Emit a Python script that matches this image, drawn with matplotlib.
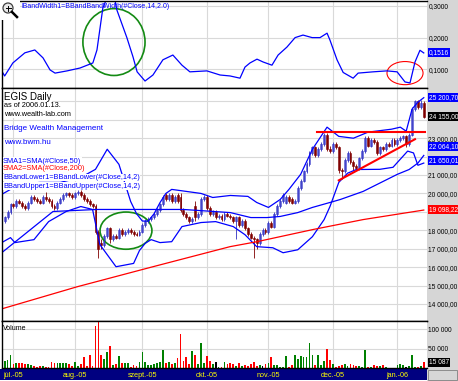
import numpy as np
import pandas as pd
import matplotlib
matplotlib.use("Agg")
import matplotlib.pyplot as plt
from matplotlib.patches import Ellipse, Rectangle

plt.rcParams['font.family'] = ['Liberation Sans', 'DejaVu Sans']

W, H = 458, 381

# trading days shown on the chart
dates = pd.bdate_range("2005-06-28", "2006-01-13")

opens = [18500, 18700, 19000, 19400, 19300, 19600, 19500, 19300, 19200, 19500, 19800, 19700,
         19600, 19500, 19800, 19700, 19600, 19300, 19200, 19500, 19700, 19900, 20000, 19900,
         19800, 20000, 20100, 19900, 19700, 19600, 19400, 19300, 17900, 17300, 17200, 17700,
         18100, 17500, 17700, 17600, 18000, 17800, 17900, 18000, 17900, 17800, 17750, 17900,
         18300, 18500, 18600, 18700, 18900, 19100, 19400, 19900, 19700, 19900, 19600, 19900,
         19800, 19100, 18900, 18700, 18500, 19300, 18700, 18900, 19700, 19800, 19200, 18900,
         19000, 18700, 18800, 18600, 18900, 18800, 18700, 18500, 18700, 18300, 18500, 18100,
         17800, 17600, 17500, 17300, 17800, 18000, 17900, 18400, 18200, 18900, 19300, 19600,
         19500, 19800, 19700, 19500, 19600, 20300, 20700, 21200, 21600, 22200, 22500, 22100,
         22400, 22700, 23200, 22400, 22300, 22700, 22500, 21300, 21200, 21800, 22200, 21700,
         21500, 21400, 21900, 22300, 23000, 22600, 22900, 22800, 22200, 22500, 22400, 22700,
         22600, 22900, 22700, 22900, 23000, 23100, 22700, 23200, 24600, 25000, 24700, 24900]
highs = [18800, 19100, 19500, 19500, 19700, 19700, 19600, 19400, 19600, 19900, 19900, 19800,
         19700, 19900, 20100, 19800, 19700, 19400, 19600, 19800, 20000, 20100, 20100, 20000,
         20100, 20200, 20200, 20000, 19800, 19700, 19500, 19400, 18000, 17500, 17800, 18200,
         18200, 17800, 17800, 18100, 18100, 18000, 18100, 18100, 18000, 17900, 18000, 18400,
         18600, 18700, 18800, 19000, 19200, 19500, 19900, 20000, 20000, 20000, 19900, 20000,
         20000, 19200, 19000, 18800, 18700, 19600, 19000, 19800, 19900, 19900, 19300, 19100,
         19100, 18900, 18900, 19000, 19000, 18900, 18800, 18800, 18800, 18600, 18600, 18200,
         17900, 17700, 17600, 17900, 18100, 18100, 18500, 18500, 19000, 19400, 19700, 20000,
         19900, 19900, 19800, 19700, 20400, 20800, 21300, 21700, 22300, 22600, 22600, 22500,
         22800, 23300, 23300, 22600, 22800, 22800, 22600, 21400, 21900, 22300, 22300, 21800,
         21600, 22000, 22400, 23100, 23100, 23000, 23000, 22900, 22600, 22600, 22800, 22800,
         23000, 23000, 23000, 23100, 23200, 23200, 23300, 24700, 25100, 25100, 25100, 25000]
lows = [18400, 18600, 18900, 19200, 19200, 19400, 19200, 19100, 19100, 19400, 19600, 19500,
        19400, 19400, 19600, 19500, 19200, 19100, 19100, 19400, 19600, 19800, 19800, 19700,
        19700, 19900, 19800, 19600, 19500, 19300, 19200, 17800, 16500, 17000, 17100, 17600,
        17300, 17400, 17500, 17500, 17700, 17700, 17800, 17800, 17700, 17700, 17700, 17850,
        18200, 18400, 18500, 18600, 18800, 19000, 19300, 19600, 19600, 19500, 19500, 19500,
        19000, 18800, 18600, 18400, 18400, 18500, 18600, 18800, 19600, 19100, 18800, 18800,
        18600, 18600, 18500, 18500, 18700, 18600, 18400, 17500, 18200, 18200, 18000, 17700,
        17500, 16500, 17000, 17200, 17700, 17800, 17800, 18100, 18100, 18800, 19200, 19500,
        19400, 19500, 19400, 19400, 19500, 20200, 20600, 21100, 21500, 22100, 22000, 22000,
        22300, 22600, 22300, 22200, 22200, 22400, 21100, 20800, 21100, 21700, 21600, 21300,
        21300, 21300, 21800, 22200, 22500, 22500, 22700, 22100, 22100, 22300, 22300, 22500,
        22500, 22600, 22600, 22800, 22900, 22500, 22600, 23100, 24500, 24600, 24600, 24100]
closes = [18700, 19000, 19400, 19300, 19600, 19500, 19300, 19200, 19500, 19800, 19700, 19600,
          19500, 19800, 19700, 19600, 19300, 19200, 19500, 19700, 19900, 20000, 19900, 19800,
          20000, 20100, 19900, 19700, 19600, 19400, 19300, 17900, 17000, 17200, 17700, 18100,
          17500, 17700, 17600, 18000, 17800, 17900, 18000, 17900, 17800, 17750, 17900, 18300,
          18500, 18600, 18700, 18900, 19100, 19400, 19800, 19700, 19900, 19600, 19800, 19600,
          19100, 18900, 18700, 18500, 18600, 18700, 18900, 19700, 19800, 19200, 18900, 19000,
          18700, 18800, 18600, 18900, 18800, 18700, 18500, 18700, 18300, 18500, 18100, 17800,
          17600, 17500, 17300, 17800, 18000, 17900, 18400, 18200, 18900, 19300, 19600, 19900,
          19800, 19600, 19500, 19600, 20300, 20700, 21200, 21600, 22200, 22500, 22100, 22400,
          22700, 23200, 22400, 22300, 22700, 22500, 21300, 21200, 21800, 22200, 21700, 21500,
          21400, 21900, 22300, 23000, 22600, 22900, 22800, 22200, 22500, 22400, 22700, 22600,
          22900, 22700, 22900, 23000, 23100, 22700, 23200, 24600, 25000, 24700, 24900, 24155]
volumes = [18400, 21000, 32500, 9600, 12300, 12300, 12300, 9600, 9600, 7900, 6000, 3500,
           6000, 6000, 3500, 3500, 16700, 12300, 12300, 12300, 12300, 12300, 9600, 5000,
           16700, 6000, 9600, 27200, 6000, 32500, 5000, 109000, 118000, 34200, 23700, 41200,
           56000, 7900, 9600, 29800, 12300, 12300, 12300, 3500, 7900, 6000, 16700, 41200,
           16700, 7900, 7900, 9600, 12300, 16700, 45600, 12300, 16700, 9600, 12300, 25000,
           87000, 18400, 27200, 9600, 43000, 32500, 9600, 65000, 12300, 29800, 18400, 9600,
           16700, 3500, 3500, 16700, 9600, 12300, 9600, 6000, 12300, 6000, 7900, 6000,
           9600, 16700, 6000, 7900, 6000, 9600, 12300, 27200, 7900, 7900, 3500, 3500,
           29800, 3500, 7900, 32500, 23700, 29800, 27200, 27200, 65000, 34200, 7900, 34200,
           7900, 18400, 50000, 21000, 9600, 3500, 6000, 7900, 9600, 6000, 9600, 7900,
           5000, 5000, 3500, 47400, 3500, 3500, 7900, 6000, 6000, 7900, 1800, 1000,
           1000, 1000, 7900, 9600, 7900, 3500, 6000, 32500, 3500, 3500, 6000, 15087]
vol_black = [72, 88, 137]

# indicator lines (bar index, value)
bw_idx = [-1, 0, 2.8, 6.9, 10.3, 13.1, 15.5, 17.2, 21.3, 25.7, 30.1, 31.5, 33.5, 34.9, 36.2,
          37.6, 38.3, 41.7, 43.8, 45.2, 47.9, 50.6, 54, 57.4, 60.5, 63.2, 69, 73.5, 76.9, 80.3,
          82, 83.7, 86.1, 88.2, 91.2, 93.3, 96.3, 99.1, 101.8, 104.9, 107.6, 110, 111, 113.4,
          115.5, 118.9, 120.6, 125.7, 130.4, 133.9, 136.6, 138.3, 140, 141.7, 143]
bw_val = [0.095, 0.079, 0.12, 0.152, 0.161, 0.136, 0.098, 0.088, 0.095, 0.104, 0.12, 0.161,
          0.293, 0.325, 0.345, 0.32, 0.287, 0.2, 0.139, 0.092, 0.063, 0.082, 0.13, 0.145, 0.113,
          0.092, 0.095, 0.082, 0.079, 0.072, 0.107, 0.12, 0.132, 0.123, 0.113, 0.145, 0.17, 0.2,
          0.208, 0.2, 0.2, 0.214, 0.192, 0.13, 0.09, 0.072, 0.088, 0.092, 0.095, 0.092, 0.06,
          0.057, 0.123, 0.16, 0.1516]

bbu_idx = [-1, 5, 12, 19, 26, 31, 35, 39, 43, 45, 47, 49, 51, 53, 55, 57, 62, 67, 71, 77, 83,
           86, 90, 94, 97, 101, 105, 110, 114, 119, 124, 132, 135, 137, 139, 141, 143]
bbu_val = [19950, 20490, 20600, 20600, 20870, 21310, 22400, 21580, 19560, 18900, 18500, 18500,
           18900, 19500, 20000, 20220, 20110, 20000, 19780, 19890, 19840, 19510, 19240, 19670,
           20220, 21040, 22400, 23600, 23100, 23000, 23330, 23490, 23600, 23380, 24580, 24960,
           25200.70]

bbl_idx = [-1, 2, 3.5, 10, 15, 21, 26, 30, 32.5, 38, 44, 46, 48, 50, 53, 57, 60.5, 67, 72, 78,
           82, 86, 91.5, 95, 100, 105, 109, 111, 114, 117, 120, 128, 132.5, 137.5, 139.5, 141, 143]
bbl_val = [17330, 17600, 17330, 17490, 18470, 19020, 19290, 19130, 17220, 16020, 16200, 16900,
           17300, 17490, 17330, 17380, 18200, 18420, 18470, 18200, 17760, 17110, 17050, 16780,
           16940, 17650, 18580, 19290, 20600, 21100, 21300, 21310, 21420, 22300, 22200, 21530,
           21650.01]

sma50_idx = [-1, 16.5, 31.5, 46, 61, 77, 84, 89.5, 94, 100, 105, 111, 114.5, 122.3, 134, 138,
             141, 143]
sma50_val = [16780, 19020, 19130, 19130, 19130, 18960, 18690, 18690, 18750, 18960, 19240, 19510,
             19670, 20110, 21040, 21300, 21650, 22064.10]

sma200_idx = [-1, 24.7, 50.6, 76.9, 86.1, 105.2, 122.3, 143]
sma200_val = [13730, 14930, 16020, 17110, 17380, 18040, 18580, 19098.22]

# hand drawn marks on the chart: (centre idx, centre value, width, height)
bw_green_ring = (37.3, 0.186, 21.2, 0.211)
bw_red_ring = (136.6, 0.088, 12.3, 0.073)
price_green_ring = (41.4, 17980, 17.7, 2020)
resistance_x, resistance_y = [106.6, 143.4], [23330, 23330]
support_x, support_y = [114, 140], [20710, 22945]

month_labels = ["júl.-05", "aug.-05", "szept.-05", "okt.-05", "nov.-05", "dec.-05", "jan.-06"]
bw_ticks = [0.1, 0.2, 0.3]
bw_tick_labels = ["0,1000", "0,2000", "0,3000"]
price_ticks = list(range(14000, 26000, 1000))
price_tick_labels = ["14 000,00", "15 000,00", "16 000,00", "17 000,00", "18 000,00", "",
                     "20 000,00", "21 000,00", "", "23 000,00", "", ""]
vol_ticks = [50000, 100000]
vol_tick_labels = ["50 000", "100 000"]

BLUE = '#0000ff'
RED = '#ff0000'
GREEN_RING = '#138a13'
GRID = '#d9d9d9'

idx = np.arange(len(dates))
month_pos = [i for i in range(1, len(dates)) if dates[i].month != dates[i - 1].month]


def box(x0, y0, x1, y1):
    return [x0 / W, 1 - y1 / H, (x1 - x0) / W, (y1 - y0) / H]


fig = plt.figure(figsize=(W / 100, H / 100), dpi=100)
fig.patch.set_facecolor('white')

# grey price-scale column and navy date strip
fig.add_artist(Rectangle((427 / W, 0), 31 / W, 1, transform=fig.transFigure,
                         fc='#d6d6d6', ec='none', zorder=-5))
fig.add_artist(Rectangle((0, 1 - 380 / H), 427 / W, 11 / H, transform=fig.transFigure,
                         fc='#000080', ec='none', zorder=-5))
fig.add_artist(Rectangle((428 / W, 1 - 380 / H), 29 / W, 10 / H, transform=fig.transFigure,
                         fc='#d6d6d6', ec='#808080', lw=0.6, zorder=-4))

ax_bw = fig.add_axes(box(2, 1, 427, 88))
ax_p = fig.add_axes(box(2, 88, 427, 321))
ax_v = fig.add_axes(box(2, 321, 427, 368))

for ax in (ax_bw, ax_p, ax_v):
    ax.set_xlim(-0.9, 144.1)
    ax.set_xticks(month_pos)
    ax.grid(True, color=GRID, lw=0.8)
    ax.set_axisbelow(True)
    ax.yaxis.tick_right()
    ax.tick_params(axis='both', length=0, labelsize=4.8, pad=1)
    ax.tick_params(axis='x', labelbottom=False)
    ax.spines['right'].set_visible(False)
    for s in ('left', 'top', 'bottom'):
        ax.spines[s].set_linewidth(1.0)

# --- band width panel
ax_bw.plot(bw_idx, bw_val, color=BLUE, lw=0.9)
ax_bw.set_ylim(0.041, 0.3155)
ax_bw.set_yticks(bw_ticks)
ax_bw.set_yticklabels(bw_tick_labels)
c = bw_green_ring
ax_bw.add_patch(Ellipse((c[0], c[1]), c[2], c[3], fill=False, ec=GREEN_RING, lw=1.2))
c = bw_red_ring
ax_bw.add_patch(Ellipse((c[0], c[1]), c[2], c[3], fill=False, ec=RED, lw=0.8))

# --- price panel
up = np.array(closes) >= np.array(opens)
for i in idx:
    col = '#3030c0' if up[i] else '#800000'
    ax_p.vlines(i, lows[i], highs[i], color=col, lw=0.6)
body_lo = np.minimum(opens, closes)
body_h = np.abs(np.array(closes) - np.array(opens))
ax_p.bar(idx[up], body_h[up], bottom=body_lo[up], width=0.65,
         color='#aab0ff', edgecolor='#3030c0', lw=0.4)
ax_p.bar(idx[~up], body_h[~up], bottom=body_lo[~up], width=0.65,
         color='#800000', edgecolor='#800000', lw=0.4)

ax_p.plot(bbu_idx, bbu_val, color=BLUE, lw=0.9)
ax_p.plot(bbl_idx, bbl_val, color=BLUE, lw=0.9)
ax_p.plot(sma50_idx, sma50_val, color=BLUE, lw=0.9)
ax_p.plot(sma200_idx, sma200_val, color=RED, lw=0.9)
ax_p.plot(resistance_x, resistance_y, color=RED, lw=1.5)
ax_p.plot(support_x, support_y, color=RED, lw=1.5)
c = price_green_ring
ax_p.add_patch(Ellipse((c[0], c[1]), c[2], c[3], fill=False, ec=GREEN_RING, lw=1.2))

ax_p.set_ylim(13072, 25727)
ax_p.set_yticks(price_ticks)
ax_p.set_yticklabels(price_tick_labels)

# --- volume panel
vol_cols = ['#008000' if up[i] else '#ff0000' for i in idx]
for i in vol_black:
    vol_cols[i] = '#000000'
ax_v.bar(idx, volumes, width=0.6, color=vol_cols)
ax_v.set_ylim(0, 121000)
ax_v.set_yticks(vol_ticks)
ax_v.set_yticklabels(vol_tick_labels)
ax_v.set_xticklabels(month_labels)
ax_v.tick_params(axis='x', labelbottom=True, labelcolor='#ffff00', labelsize=5.2, pad=3)


# last-value tags on the price scale
def tag(ax, y, text, fc, dy=0):
    ax.annotate(text, xy=(1, y), xycoords=ax.get_yaxis_transform(),
                xytext=(1.2, dy), textcoords='offset points', ha='left', va='center',
                fontsize=4.8, color='white', annotation_clip=False,
                bbox=dict(boxstyle='square,pad=0.15', fc=fc, ec='none'))


tag(ax_bw, bw_val[-1], "0,1516", BLUE)
tag(ax_p, bbu_val[-1], "25 200,70", BLUE)
tag(ax_p, closes[-1], "24 155,00", 'black')
tag(ax_p, sma50_val[-1], "22 064,10", BLUE, dy=6.5)
tag(ax_p, bbl_val[-1], "21 650,01", BLUE, dy=1.5)
tag(ax_p, sma200_val[-1], "19 098,22", RED, dy=0.5)
tag(ax_v, volumes[-1], "15 087", 'black')


def ftext(x, y, s, size, color='black', bg=False):
    kw = {}
    if bg:
        kw['bbox'] = dict(boxstyle='square,pad=0.05', fc='white', ec='none')
    fig.text(x / W, 1 - y / H, s, fontsize=size, color=color, ha='left', va='center', **kw)


ftext(22, 6, "lBandWidth1=BBandBandWidth(#Close,14,2.0)", 5, BLUE)
ftext(4, 97, "EGIS Daily", 7, bg=True)
ftext(4, 105.5, "as of 2006.01.13.", 5.3, bg=True)
ftext(4, 114, "www.wealth-lab.com", 5.3, bg=True)
ftext(4, 128, "Bridge Wealth Management", 5.8, BLUE)
ftext(4, 143, "www.bwm.hu", 5.8, BLUE)
ftext(3, 161, "SMA1=SMA(#Close,50)", 5.3, BLUE, bg=True)
ftext(3, 169, "SMA2=SMA(#Close,200)", 5.3, RED, bg=True)
ftext(3, 177.5, "BBandLower1=BBandLower(#Close,14,2)", 5.3, BLUE, bg=True)
ftext(3, 186, "BBandUpper1=BBandUpper(#Close,14,2)", 5.3, BLUE, bg=True)
ftext(3, 329, "Volume", 5)

# magnifier icon in the corner
fig.add_artist(Rectangle((0, 1 - 20 / H), 20 / W, 20 / H, transform=fig.transFigure,
                         fc='white', ec='none', zorder=5))
fig.add_artist(Ellipse((8 / W, 1 - 8 / H), 10 / W, 10 / H, transform=fig.transFigure,
                       fc='#e8e8e8', ec='#404040', lw=0.9, zorder=6))
fig.add_artist(plt.Line2D([12 / W, 17 / W], [1 - 12 / H, 1 - 17 / H], transform=fig.transFigure,
                          color='black', lw=1.8, zorder=6))
fig.add_artist(plt.Line2D([5.5 / W, 10.5 / W], [1 - 8 / H, 1 - 8 / H], transform=fig.transFigure,
                          color='black', lw=0.7, zorder=7))
fig.add_artist(plt.Line2D([8 / W, 8 / W], [1 - 5.5 / H, 1 - 10.5 / H], transform=fig.transFigure,
                          color='black', lw=0.7, zorder=7))

fig.savefig("out.png", dpi=100)
